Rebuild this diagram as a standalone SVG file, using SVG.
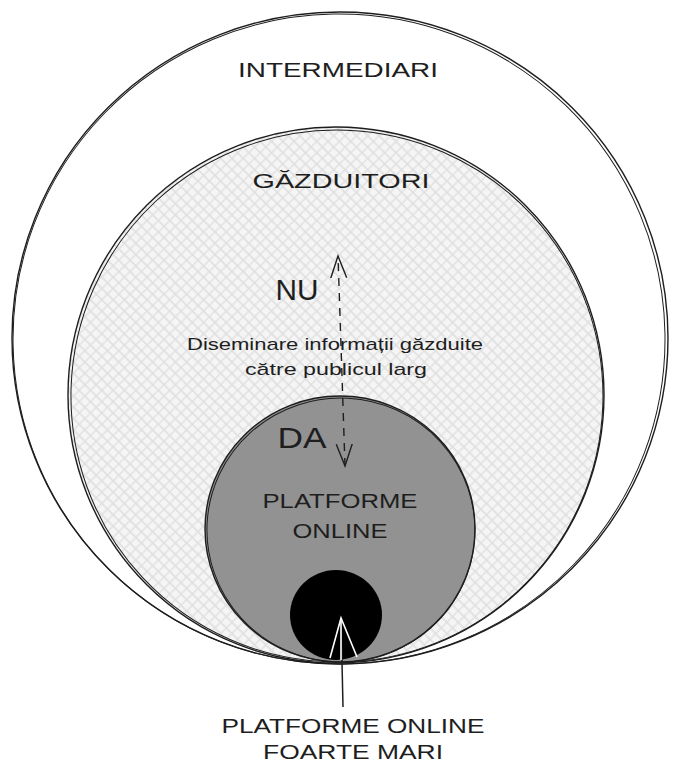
<svg xmlns="http://www.w3.org/2000/svg" width="675" height="764" viewBox="0 0 675 764">
<style>
.edge{stroke:#1e1e1e;stroke-width:1.4}
.edge2{fill:none;stroke:#1e1e1e;stroke-width:1}
.lbl{font-family:"Liberation Sans","DejaVu Sans",sans-serif;fill:#1e1e1e;text-anchor:middle}
.cap{font-size:21px}
.small{font-size:17px}
.big{font-size:30px}
</style>
<defs>
<pattern id="hatch" width="8" height="8" patternUnits="userSpaceOnUse" patternTransform="rotate(45)">
<rect width="8" height="8" fill="#f5f5f5"/>
<path d="M0 4H8M4 0V8" stroke="#dedede" stroke-width="1.3"/>
</pattern>
<marker id="ah" viewBox="0 0 24 20" refX="22" refY="10" markerWidth="24" markerHeight="20" markerUnits="userSpaceOnUse" orient="auto-start-reverse">
<path d="M0 2L22 10L0 18" fill="none" stroke="#1e1e1e" stroke-width="1.4"/>
</marker>
</defs>
<rect width="675" height="764" fill="#ffffff"/>
<g id="intermediari">
<ellipse cx="340" cy="338" rx="328" ry="326" fill="#ffffff" class="edge"/>
<ellipse cx="339" cy="339" rx="326" ry="325" transform="rotate(-1 340 338)" class="edge2"/>
<text class="lbl cap" x="338" y="77" textLength="200" lengthAdjust="spacingAndGlyphs">INTERMEDIARI</text>
</g>
<g id="gazduitori">
<ellipse cx="336" cy="395" rx="268" ry="268" fill="url(#hatch)" class="edge"/>
<ellipse cx="337" cy="396" rx="266" ry="266" transform="rotate(2 336 395)" class="edge2"/>
<text class="lbl cap" x="341" y="188" textLength="177" lengthAdjust="spacingAndGlyphs">GĂZDUITORI</text>
</g>
<g id="platforme-online">
<ellipse cx="340" cy="529" rx="135" ry="133" fill="#929292" class="edge"/>
<ellipse cx="341" cy="530" rx="134" ry="132" transform="rotate(3 340 529)" class="edge2"/>
<text class="lbl cap" x="340" y="508" textLength="155" lengthAdjust="spacingAndGlyphs">PLATFORME</text>
<text class="lbl cap" x="340" y="538" textLength="95" lengthAdjust="spacingAndGlyphs">ONLINE</text>
</g>
<g id="platforme-foarte-mari">
<ellipse cx="336" cy="615" rx="46" ry="45" fill="#000000"/>
<path d="M312 582Q320 574 330 572" fill="none" stroke="#000" stroke-width="2"/>
</g>
<g id="connectors">
<path d="M345 466L338 256" fill="none" stroke="#1e1e1e" stroke-width="1.4" stroke-dasharray="8 7" marker-start="url(#ah)" marker-end="url(#ah)"/>
<path d="M343 707L341 618" fill="none" stroke="#1e1e1e" stroke-width="1.5"/>
<path d="M330 658L341 618L357 657" fill="none" stroke="#ffffff" stroke-width="1.6"/>
<path d="M341 618L341 660" fill="none" stroke="#ffffff" stroke-width="1.6"/>
</g>
<g id="labels">
<text class="lbl big" x="297" y="300" textLength="43" lengthAdjust="spacingAndGlyphs">NU</text>
<text class="lbl big" x="302" y="448" textLength="49" lengthAdjust="spacingAndGlyphs">DA</text>
<text class="lbl small" x="335" y="350" textLength="296" lengthAdjust="spacingAndGlyphs">Diseminare informații găzduite</text>
<text class="lbl small" x="336" y="375" textLength="182" lengthAdjust="spacingAndGlyphs">către publicul larg</text>
<text class="lbl cap" x="353" y="733" textLength="263" lengthAdjust="spacingAndGlyphs">PLATFORME ONLINE</text>
<text class="lbl cap" x="353" y="759" textLength="180" lengthAdjust="spacingAndGlyphs">FOARTE MARI</text>
</g>
</svg>
